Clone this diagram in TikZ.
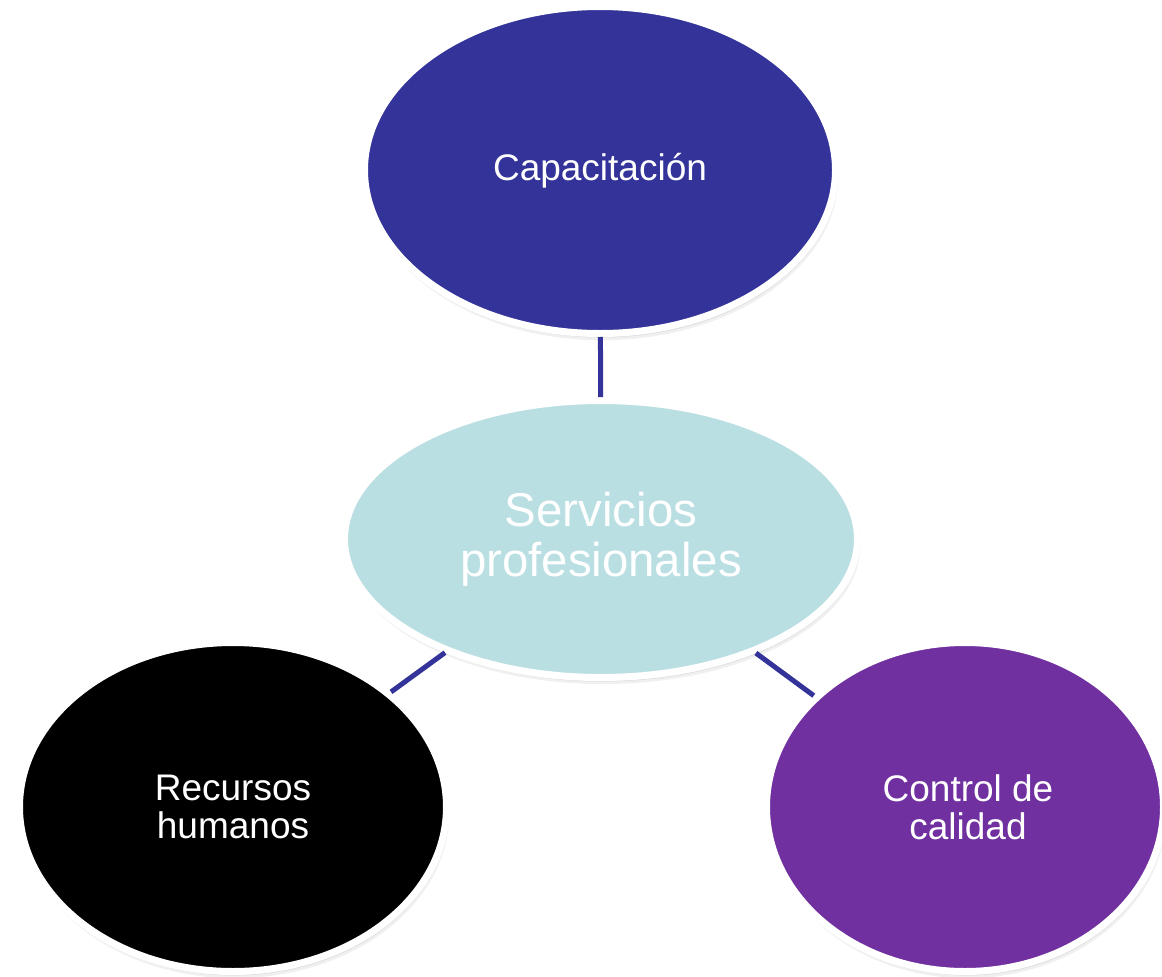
\documentclass[tikz,border=0pt]{standalone}
\usepackage{fontspec}
\setmainfont{Liberation Sans}
\usetikzlibrary{shapes.geometric,shadows}
\definecolor{capblue}{HTML}{333399}
\definecolor{srvcyan}{HTML}{BADFE3}
\definecolor{ctlpurple}{HTML}{7030A0}
\tikzset{
  bubble/.style={ellipse, draw=white, line width=7pt, inner sep=0pt,
    drop shadow={shadow xshift=0pt, shadow yshift=0pt, fill=black, opacity=0.04, shadow scale=1.014},
    drop shadow={shadow xshift=2pt, shadow yshift=-6pt, fill=black, opacity=0.06, shadow scale=1.004},
    drop shadow={shadow xshift=1.5pt, shadow yshift=-4pt, fill=black, opacity=0.09},
    drop shadow={shadow xshift=1pt, shadow yshift=-2pt, fill=black, opacity=0.12}},
  smalltxt/.style={text=white, align=center, font=\fontsize{37}{38}\selectfont},
  bigtxt/.style={text=white, align=center, font=\fontsize{47.4}{50}\selectfont},
  link/.style={draw=capblue, line width=5pt}
}
\begin{document}
\begin{tikzpicture}[x=1pt,y=-1pt]
\useasboundingbox (0,0) rectangle (1162,977);
\clip (0,0) rectangle (1162,977);
\node[bubble, fill=capblue, minimum width=471pt, minimum height=327pt] (cap) at (600,170) {};
\node[bubble, fill=srvcyan, minimum width=513pt, minimum height=277pt] (srv) at (601,539) {};
\node[bubble, fill=black, minimum width=427pt, minimum height=329pt] (rec) at (233,807) {};
\node[bubble, fill=ctlpurple, minimum width=397pt, minimum height=329pt] (ctl) at (965,807) {};
\draw[link] (cap) -- (srv);
\draw[link] (srv) -- (rec);
\draw[link] (srv) -- (ctl);
\node[smalltxt] (capT) at (600,171) {Capacitación};
\node[bigtxt] (srvT) at (601,539) {Servicios\\profesionales};
\node[smalltxt] (recT) at (233,807) {Recursos\\humanos};
\node[smalltxt] (ctlT) at (968,807) {Control de\\calidad};
\end{tikzpicture}
\end{document}
